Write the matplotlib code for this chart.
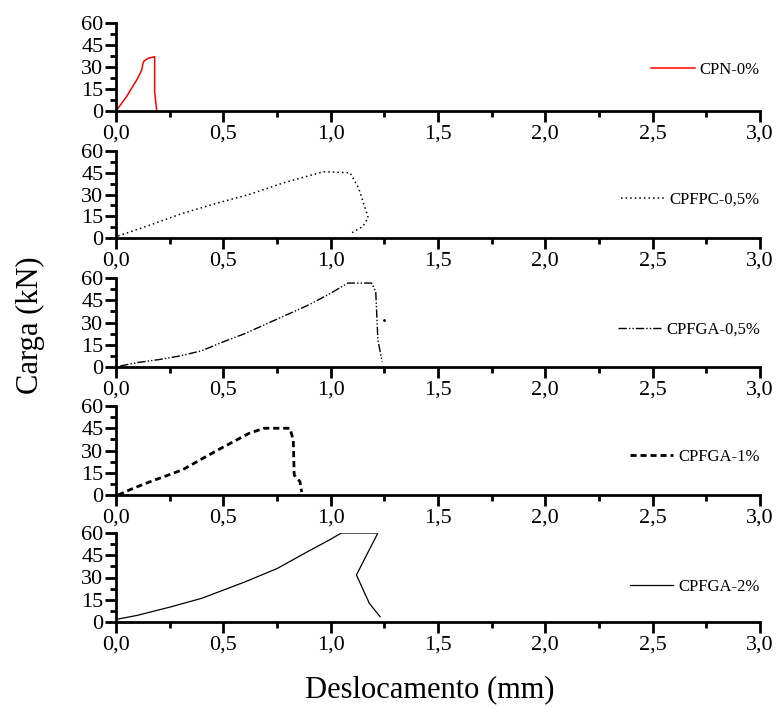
import matplotlib
matplotlib.use('Agg')
import matplotlib.pyplot as plt
from matplotlib.ticker import MultipleLocator, FuncFormatter

plt.rcParams['font.family'] = ['Liberation Serif', 'DejaVu Serif']

# curves: displacement (mm), load (kN)
cpn_x = [0.0, 0.05, 0.10, 0.12, 0.125, 0.13, 0.15, 0.18, 0.18, 0.19]
cpn_y = [0.0, 10.0, 22.0, 28.0, 32.0, 34.0, 36.0, 37.0, 13.0, 0.0]

cpfpc_x = [0.01, 0.16, 0.31, 0.47, 0.62, 0.78, 0.966, 1.09, 1.13, 1.175, 1.15, 1.10]
cpfpc_y = [1.4, 9.0, 17.0, 24.0, 30.0, 38.0, 45.7, 45.0, 34.5, 14.0, 8.0, 3.7]

cpfga05_x = [0.02, 0.1, 0.2, 0.3, 0.4, 0.5, 0.6, 0.7, 0.8, 0.9, 1.0, 1.08,
             1.19, 1.21, 1.22, 1.24]
cpfga05_y = [0.7, 3.0, 5.0, 7.5, 11.0, 17.0, 22.5, 29.0, 35.5, 42.0, 49.7, 56.6,
             56.6, 50.8, 18.0, 3.6]
cpfga05_dot_x = [1.25]
cpfga05_dot_y = [32.0]

cpfga1_x = [0.01, 0.08, 0.16, 0.31, 0.47, 0.62, 0.69, 0.81, 0.826, 0.83, 0.857, 0.865]
cpfga1_y = [0.0, 4.5, 9.0, 17.0, 30.0, 41.6, 45.0, 45.0, 37.0, 13.5, 9.0, 2.0]

cpfga2_x = [0.01, 0.1, 0.25, 0.4, 0.5, 0.6, 0.75, 0.9, 1.0, 1.05, 1.22, 1.12,
            1.18, 1.23]
cpfga2_y = [2.0, 4.5, 10.0, 16.0, 21.5, 27.0, 36.0, 48.0, 55.8, 60.0, 60.0, 31.7,
            12.6, 3.6]

labels = ['CPN-0%', 'CPFPC-0,5%', 'CPFGA-0,5%', 'CPFGA-1%', 'CPFGA-2%']

# pixel top/bottom of each panel
panels = [(23, 111), (151, 238), (278, 367), (406, 495), (533, 622)]
leg_y = [0.47, 0.44, 0.42, 0.43, 0.39]

W, H = 779, 708
fig = plt.figure(figsize=(W / 100, H / 100), dpi=100)

comma = FuncFormatter(lambda v, p: ('%.1f' % v).replace('.', ','))

axes = []
for (top, bot) in panels:
    ax = fig.add_axes([116 / W, 1 - bot / H, 644 / W, (bot - top) / H])
    ax.set_xlim(0, 3.0)
    ax.set_ylim(0, 60)
    ax.spines['top'].set_visible(False)
    ax.spines['right'].set_visible(False)
    ax.spines['left'].set_linewidth(2)
    ax.spines['bottom'].set_linewidth(2)
    ax.xaxis.set_major_locator(MultipleLocator(0.5))
    ax.xaxis.set_minor_locator(MultipleLocator(0.25))
    ax.yaxis.set_major_locator(MultipleLocator(15))
    ax.yaxis.set_minor_locator(MultipleLocator(7.5))
    ax.xaxis.set_major_formatter(comma)
    ax.tick_params(which='major', direction='out', length=8, width=2,
                   labelsize=16, pad=2)
    ax.tick_params(which='minor', direction='out', length=4, width=2)
    ax.tick_params(axis='y', pad=1)
    ax.patch.set_alpha(0)
    axes.append(ax)

axes[0].plot(cpn_x, cpn_y, color='red', lw=1.1, label=labels[0])
axes[1].plot(cpfpc_x, cpfpc_y, color='black', lw=1.1, ls=(0, (1, 2)),
             label=labels[1])
axes[2].plot(cpfga05_x, cpfga05_y, color='black', lw=1.0,
             ls=(0, (6, 1.5, 1, 1.5, 1, 1.5)), label=labels[2])
axes[2].plot(cpfga05_dot_x, cpfga05_dot_y, 'k.', ms=2)
axes[3].plot(cpfga1_x, cpfga1_y, color='black', lw=2.0, ls=(0, (2.2, 1.4)),
             label=labels[3])
axes[4].plot(cpfga2_x, cpfga2_y, color='black', lw=0.9, label=labels[4])

for ax, ly in zip(axes, leg_y):
    ax.legend(loc='center right', bbox_to_anchor=(1.01, ly), frameon=False,
              fontsize=12, handlelength=2.6, handletextpad=0.3,
              borderaxespad=0)

fig.text(30 / W, 1 - 325 / H, 'Carga (kN)', rotation=90, fontsize=22,
         ha='center', va='center')
fig.text(430 / W, 1 - 690 / H, 'Deslocamento (mm)', fontsize=22,
         ha='center', va='center')

fig.savefig('out.png', dpi=100)
